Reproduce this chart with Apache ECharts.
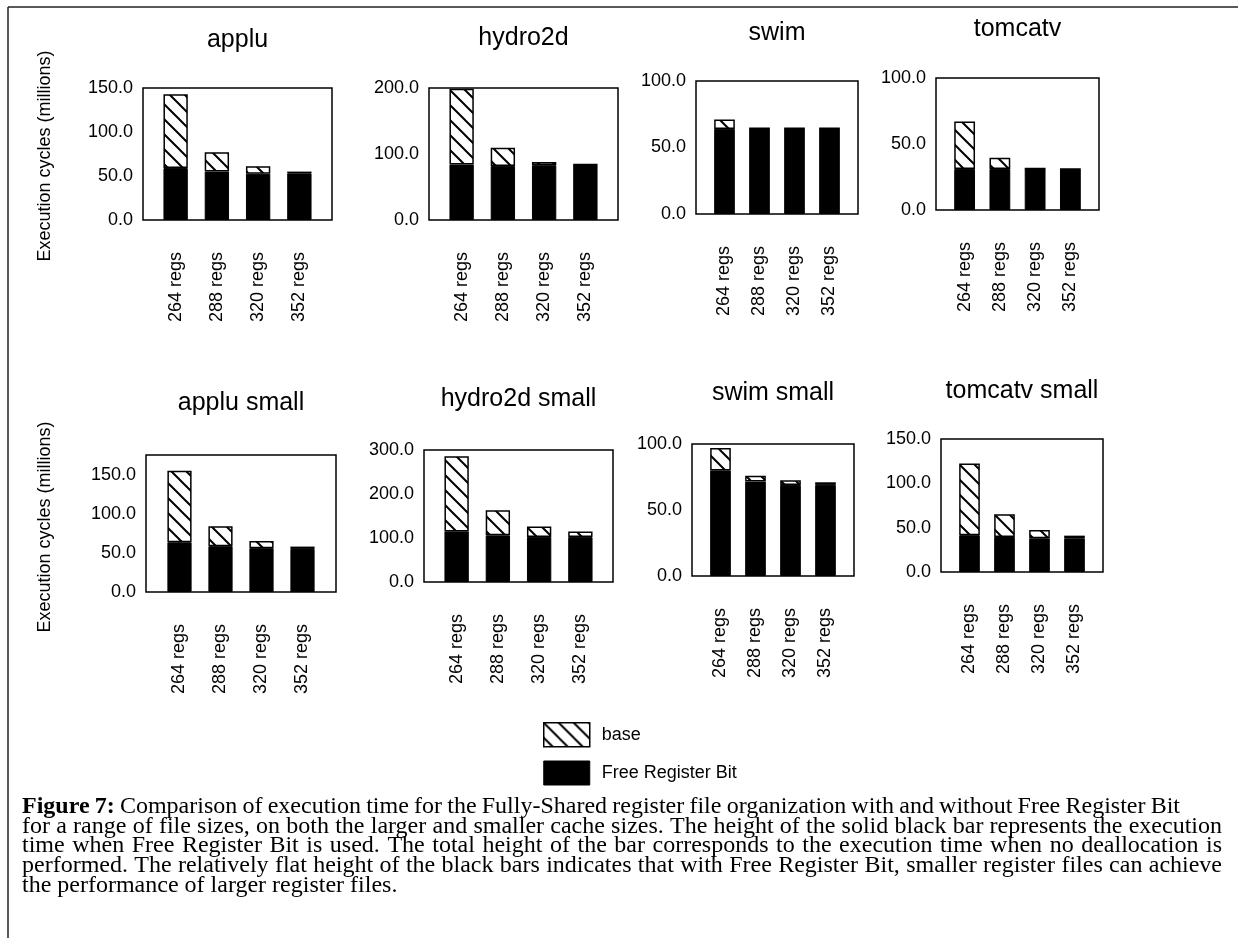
<!DOCTYPE html>
<html>
<head>
<meta charset="utf-8">
<script src="https://cdn.jsdelivr.net/npm/echarts@6/dist/echarts.min.js"></script>
<style>
html, body { margin: 0; padding: 0; background: #fff; }
#chart { width: 1238px; height: 938px; }
</style>
</head>
<body>
<div id="chart"></div>
<script>
const categories = ['264 regs', '288 regs', '320 regs', '352 regs'];
const benchmarks = ['applu', 'hydro2d', 'swim', 'tomcatv', 'applu small', 'hydro2d small', 'swim small', 'tomcatv small'];

// total bar height = base (no deallocation)
const baseApplu = [143, 77, 61, 55];
const baseHydro2d = [199, 109.5, 88, 84];
const baseSwim = [71, 64.5, 64.5, 64.5];
const baseTomcatv = [67, 39.5, 31.5, 31];
const baseAppluSmall = [155, 84, 65, 58];
const baseHydro2dSmall = [286, 163, 126, 115];
const baseSwimSmall = [97, 76, 72.5, 71];
const baseTomcatvSmall = [122.5, 65, 47.5, 41];

// solid black part = Free Register Bit
const frbApplu = [59, 55, 52.5, 53];
const frbHydro2d = [84, 82, 83, 84];
const frbSwim = [64, 64.5, 64.5, 64.5];
const frbTomcatv = [31, 31, 31.5, 31];
const frbAppluSmall = [63.5, 58.5, 56, 55];
const frbHydro2dSmall = [115, 106, 102.5, 102];
const frbSwimSmall = [80, 71.5, 69, 69];
const frbTomcatvSmall = [41.5, 39.5, 38, 38];

// y axis: max, minor tick step, labelled step
const yMax = [150, 200, 100, 100, 175, 300, 100, 150];
const yTickStep = [10, 10, 10, 10, 10, 50, 10, 25];
const yLabelStep = [50, 100, 50, 50, 50, 100, 50, 50];

const baseAll = [baseApplu, baseHydro2d, baseSwim, baseTomcatv, baseAppluSmall, baseHydro2dSmall, baseSwimSmall, baseTomcatvSmall];
const frbAll = [frbApplu, frbHydro2d, frbSwim, frbTomcatv, frbAppluSmall, frbHydro2dSmall, frbSwimSmall, frbTomcatvSmall];

// plot boxes [left, top, width, height] and title centre y
const boxes = [
    [143, 88, 189, 132], [429, 88, 189, 132], [696, 81, 162, 133], [936, 78, 163, 132],
    [146, 455, 190, 137], [424, 450, 189, 132], [692, 444, 162, 132], [941, 439, 162, 133]
];
const titleY = [42, 40, 35, 31, 405, 401, 395, 393];

const SANS = '"Liberation Sans", Arial, Helvetica, sans-serif';
const SERIF = '"Liberation Serif", "Times New Roman", serif';

function makeHatch() {
    const s = 15;
    const c = document.createElement('canvas');
    c.width = s; c.height = s;
    const ctx = c.getContext('2d');
    ctx.fillStyle = '#fff';
    ctx.fillRect(0, 0, s, s);
    ctx.strokeStyle = '#000';
    ctx.lineWidth = 2;
    ctx.beginPath();
    ctx.moveTo(-2, -2); ctx.lineTo(s + 2, s + 2);
    ctx.moveTo(-2, s - 2); ctx.lineTo(2, s + 2);
    ctx.moveTo(s - 2, -2); ctx.lineTo(s + 2, 2);
    ctx.stroke();
    return c;
}
const hatch = { image: makeHatch(), repeat: 'repeat' };

// caption, justified word by word
const captionLines = [
    'Figure 7: Comparison of execution time for the Fully-Shared register file organization with and without Free Register Bit',
    'for a range of file sizes, on both the larger and smaller cache sizes. The height of the solid black bar represents the execution',
    'time when Free Register Bit is used. The total height of the bar corresponds to the execution time when no deallocation is',
    'performed. The relatively flat height of the black bars indicates that with Free Register Bit, smaller register files can achieve',
    'the performance of larger register files.'
];
const captionEnd = [1180, 1222, 1222, 1222, 0];
function captionGraphics() {
    const size = 24, x0 = 22, y0 = 807, lh = 19.6;
    const ctx = document.createElement('canvas').getContext('2d');
    const out = [];
    captionLines.forEach(function (line, li) {
        const words = line.split(' ');
        const fonts = words.map(function (w, wi) {
            return (li === 0 && wi < 2 ? 'bold ' : '') + size + 'px ' + SERIF;
        });
        const widths = words.map(function (w, wi) { ctx.font = fonts[wi]; return ctx.measureText(w).width; });
        ctx.font = size + 'px ' + SERIF;
        let gap = ctx.measureText(' ').width;
        if (captionEnd[li]) {
            const sum = widths.reduce(function (a, b) { return a + b; }, 0);
            gap = Math.max(gap * 0.6, (captionEnd[li] - x0 - sum) / (words.length - 1));
        }
        let x = x0;
        words.forEach(function (w, wi) {
            out.push({
                type: 'text', x: x, y: y0 + li * lh, silent: true,
                style: { text: w, font: fonts[wi], fill: '#000', textVerticalAlign: 'middle' }
            });
            x += widths[wi] + gap;
        });
    });
    return out;
}

const grids = [], xAxes = [], yAxes = [], series = [], titles = [], plotFrames = [];
benchmarks.forEach(function (name, i) {
    const b = boxes[i];
    // categories sit inset from the frame on both sides
    const inset = Math.round(b[2] * 0.066);
    grids.push({
        left: b[0] + inset, top: b[1], width: b[2] - 2 * inset, height: b[3],
        show: false, outerBoundsMode: 'none'
    });
    plotFrames.push({
        type: 'rect', silent: true, z: 100,
        shape: { x: b[0], y: b[1], width: b[2], height: b[3] },
        style: { fill: null, stroke: '#000', lineWidth: 1.5 }
    });
    titles.push({
        text: name, left: b[0] + b[2] / 2, top: titleY[i] - 14, textAlign: 'center', padding: 0,
        textStyle: { fontFamily: SANS, fontSize: 25, fontWeight: 'normal', color: '#000' }
    });
    xAxes.push({
        type: 'category', gridIndex: i, data: categories,
        axisLine: { show: false },
        axisTick: { show: false },
        axisLabel: { rotate: 90, interval: 0, margin: 32, fontSize: 18, color: '#000', fontFamily: SANS }
    });
    yAxes.push({
        type: 'value', gridIndex: i, min: 0, max: yMax[i], interval: yTickStep[i], offset: inset,
        splitLine: { show: false },
        axisLine: { show: false },
        axisTick: { inside: true, length: 5, lineStyle: { color: '#000' } },
        axisLabel: {
            margin: 10, fontSize: 18, color: '#000', fontFamily: SANS,
            formatter: function (v) { return v % yLabelStep[i] === 0 ? v.toFixed(1) : ''; }
        }
    });
    series.push({
        type: 'bar', name: 'Free Register Bit', xAxisIndex: i, yAxisIndex: i, stack: 's' + i,
        barWidth: '59%', data: frbAll[i],
        itemStyle: { color: '#000', borderColor: '#000', borderWidth: 1 }
    });
    series.push({
        type: 'bar', name: 'base', xAxisIndex: i, yAxisIndex: i, stack: 's' + i,
        barWidth: '59%',
        data: baseAll[i].map(function (v, k) { return +(v - frbAll[i][k]).toFixed(2); }),
        itemStyle: { color: hatch, borderColor: '#000', borderWidth: 1.5 }
    });
});

const yNames = [156, 527].map(function (y) {
    return {
        type: 'text', x: 45, y: y, rotation: Math.PI / 2, silent: true,
        style: {
            text: 'Execution cycles (millions)', font: '18px ' + SANS, fill: '#000',
            textAlign: 'center', textVerticalAlign: 'middle'
        }
    };
});

const frame = [
    { type: 'line', silent: true, shape: { x1: 8, y1: 7, x2: 1238, y2: 7 }, style: { stroke: '#222', lineWidth: 1.5 } },
    { type: 'line', silent: true, shape: { x1: 8, y1: 7, x2: 8, y2: 938 }, style: { stroke: '#222', lineWidth: 1.5 } }
];

const chart = echarts.init(document.getElementById('chart'));
chart.setOption({
    animation: false,
    backgroundColor: '#fff',
    title: titles,
    legend: {
        orient: 'vertical', left: 543, top: 722, padding: 0,
        itemWidth: 46, itemHeight: 24, itemGap: 13, icon: 'rect', selectedMode: false,
        textStyle: { fontSize: 18, color: '#000', fontFamily: SANS, padding: [0, 0, 0, 7] },
        data: [
            { name: 'base', itemStyle: { color: hatch, borderColor: '#000', borderWidth: 1.5 } },
            { name: 'Free Register Bit', itemStyle: { color: '#000', borderColor: '#000', borderWidth: 1 } }
        ]
    },
    grid: grids,
    xAxis: xAxes,
    yAxis: yAxes,
    series: series,
    graphic: frame.concat(plotFrames, yNames, captionGraphics())
});
</script>
</body>
</html>
